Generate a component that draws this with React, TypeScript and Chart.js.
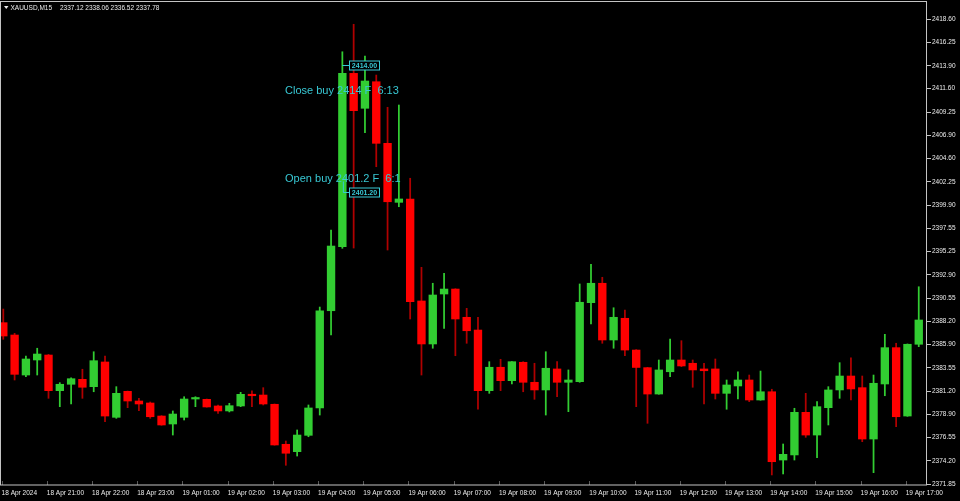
import React, { useEffect, useRef } from 'react';
import { Chart, registerables } from 'chart.js';

Chart.register(...registerables);

// ---- data (XAUUSD M15, 18 Apr 20:00 -> 19 Apr 17:15) ----
const open = [
  2388.09, 2386.85, 2382.83, 2384.34, 2384.84, 2381.26, 2381.90, 2382.40, 2381.66, 2384.14,
  2378.58, 2381.19, 2380.22, 2380.02, 2378.71, 2377.91, 2378.58, 2380.42, 2380.39, 2379.72,
  2379.22, 2379.72, 2380.89, 2380.82, 2379.89, 2375.87, 2375.13, 2376.77, 2379.52, 2389.29,
  2395.72, 2413.14, 2409.63, 2412.30, 2406.11, 2400.18, 2400.52, 2390.27, 2385.95, 2390.97,
  2391.47, 2388.63, 2387.35, 2381.26, 2383.61, 2382.26, 2384.11, 2382.10, 2381.33, 2383.44,
  2382.10, 2382.16, 2390.10, 2392.05, 2386.35, 2388.53, 2385.34, 2383.57, 2380.92, 2383.16,
  2384.34, 2384.01, 2383.44, 2383.44, 2380.99, 2381.73, 2382.33, 2380.32, 2381.15, 2374.29,
  2374.80, 2379.08, 2376.80, 2379.55, 2381.33, 2382.73, 2381.56, 2376.40, 2381.93, 2385.58,
  2378.71, 2385.92,
];
const high = [
  2389.46, 2387.02, 2384.74, 2385.52, 2384.90, 2382.06, 2382.56, 2383.41, 2385.17, 2384.74,
  2381.66, 2381.22, 2380.49, 2380.12, 2378.75, 2379.22, 2380.65, 2380.65, 2380.42, 2379.82,
  2379.99, 2381.09, 2381.23, 2381.56, 2379.92, 2376.20, 2377.31, 2379.82, 2389.66, 2397.40,
  2415.31, 2418.07, 2414.88, 2412.97, 2409.73, 2409.96, 2402.60, 2393.65, 2392.05, 2393.05,
  2391.50, 2389.53, 2388.63, 2384.17, 2384.41, 2384.17, 2384.17, 2384.01, 2385.17, 2384.17,
  2383.34, 2391.98, 2393.95, 2392.65, 2389.59, 2389.36, 2385.38, 2383.60, 2384.34, 2386.45,
  2386.28, 2384.34, 2384.01, 2384.44, 2382.33, 2383.16, 2382.83, 2383.23, 2381.40, 2375.90,
  2379.49, 2380.99, 2380.15, 2381.66, 2384.07, 2384.57, 2382.73, 2382.83, 2386.92, 2386.02,
  2385.95, 2391.70,
];
const low = [
  2386.42, 2382.33, 2382.66, 2382.83, 2380.49, 2379.65, 2379.92, 2380.49, 2381.15, 2378.14,
  2378.48, 2379.55, 2379.25, 2378.48, 2377.78, 2376.80, 2378.31, 2379.65, 2379.60, 2378.98,
  2379.12, 2379.65, 2379.65, 2379.82, 2375.78, 2373.76, 2374.69, 2376.63, 2378.81, 2386.85,
  2395.56, 2395.59, 2407.18, 2403.76, 2395.39, 2399.74, 2388.46, 2382.83, 2385.52, 2387.52,
  2384.77, 2386.02, 2379.39, 2380.99, 2381.26, 2381.93, 2381.15, 2380.39, 2378.81, 2380.65,
  2379.15, 2382.10, 2387.96, 2386.02, 2385.52, 2384.77, 2379.65, 2377.98, 2380.90, 2382.66,
  2383.67, 2381.60, 2379.92, 2380.42, 2379.39, 2380.42, 2380.15, 2380.30, 2372.79, 2372.89,
  2374.29, 2376.57, 2374.52, 2377.81, 2380.49, 2380.32, 2376.13, 2373.02, 2380.75, 2377.64,
  2378.68, 2385.68,
];
const close = [
  2386.75, 2382.90, 2384.44, 2384.94, 2381.26, 2381.90, 2382.46, 2381.60, 2384.27, 2378.71,
  2380.99, 2380.22, 2379.92, 2378.64, 2377.81, 2378.91, 2380.42, 2380.49, 2379.62, 2379.22,
  2379.75, 2380.89, 2380.75, 2379.92, 2375.80, 2374.97, 2376.80, 2379.52, 2389.29, 2395.79,
  2413.14, 2409.39, 2412.37, 2406.11, 2400.24, 2400.52, 2390.20, 2385.95, 2390.87, 2391.47,
  2388.46, 2387.28, 2381.26, 2383.61, 2382.26, 2384.17, 2382.10, 2381.33, 2383.51, 2382.10,
  2382.33, 2390.14, 2392.05, 2386.35, 2388.63, 2385.34, 2383.59, 2380.92, 2383.34, 2384.34,
  2383.74, 2383.34, 2383.26, 2380.99, 2381.83, 2382.33, 2380.32, 2381.15, 2374.12, 2374.86,
  2379.08, 2376.80, 2379.65, 2381.33, 2382.73, 2381.43, 2376.40, 2382.00, 2385.58, 2378.64,
  2385.92, 2388.36,
];

const timeTickIndex = [0, 4, 8, 12, 16, 20, 24, 28, 32, 36, 40, 44, 48, 52, 56, 60, 64, 68, 72, 76, 80];
const timeTickLabels = [
  '18 Apr 2024', '18 Apr 21:00', '18 Apr 22:00', '18 Apr 23:00', '19 Apr 01:00', '19 Apr 02:00',
  '19 Apr 03:00', '19 Apr 04:00', '19 Apr 05:00', '19 Apr 06:00', '19 Apr 07:00', '19 Apr 08:00',
  '19 Apr 09:00', '19 Apr 10:00', '19 Apr 11:00', '19 Apr 12:00', '19 Apr 13:00', '19 Apr 14:00',
  '19 Apr 15:00', '19 Apr 16:00', '19 Apr 17:00',
];
const priceTickLabels = [
  '2418.60', '2416.25', '2413.90', '2411.60', '2409.25', '2406.90', '2404.60', '2402.25', '2399.90',
  '2397.55', '2395.25', '2392.90', '2390.55', '2388.20', '2385.90', '2383.55', '2381.20', '2378.90',
  '2376.55', '2374.20', '2371.85',
];

const headerSymbol = 'XAUUSD,M15';
const headerQuote = '2337.12 2338.06 2336.52 2337.78';

const annotationTexts = ['Close buy 2414 F  6:13', 'Open buy 2401.2 F  6:1'];
const annotationPrices = [2411.03, 2402.19];
const annotationStartIndex = 24.93;
const tradeBarIndex = 30;
const tradePrices = [2414.0, 2401.2];

// ---- styling ----
const BULL = '#32cd32';
const BEAR = '#ff0000';
const BULL_WICK = '#32cd32';
const BEAR_WICK = '#b00000';
const TEXT = '#ececec';
const CYAN = '#38c8d4';
const FONT = '"Liberation Sans", Arial, sans-serif';

const idx = open.map((_, i) => i);
const isBull = idx.map((i) => close[i] >= open[i]);

const overlayPlugin = {
  id: 'mtOverlay',
  afterDatasetsDraw(chart: any) {
    const ctx = chart.ctx as CanvasRenderingContext2D;
    const { left, top, right, bottom } = chart.chartArea;
    const xs = chart.scales.x;
    const ys = chart.scales.y;
    ctx.save();

    // faint inner time ticks
    ctx.strokeStyle = '#5a5a5a';
    ctx.lineWidth = 1;
    timeTickIndex.forEach((t) => {
      const x = Math.round(xs.getPixelForValue(t - 0.15)) + 0.5;
      ctx.beginPath();
      ctx.moveTo(x, bottom - 4);
      ctx.lineTo(x, bottom);
      ctx.stroke();
    });

    // trade annotation text
    ctx.font = `11px ${FONT}`;
    ctx.fillStyle = CYAN;
    ctx.textAlign = 'left';
    ctx.textBaseline = 'alphabetic';
    annotationTexts.forEach((t, k) => {
      ctx.fillText(t, xs.getPixelForValue(annotationStartIndex), ys.getPixelForValue(annotationPrices[k]));
    });

    // price label boxes
    const cx = xs.getPixelForValue(tradeBarIndex);
    tradePrices.forEach((p, k) => {
      const y = Math.round(ys.getPixelForValue(p)) + 0.5;
      ctx.strokeStyle = CYAN;
      ctx.lineWidth = 1;
      ctx.beginPath();
      if (k === 1) {
        ctx.moveTo(cx + 1, y - 11);
        ctx.lineTo(cx + 1, y);
      } else {
        ctx.moveTo(cx, y);
      }
      ctx.lineTo(cx + 7, y);
      ctx.stroke();
      const bx = Math.round(cx + 7) + 0.5;
      ctx.fillStyle = '#000';
      ctx.fillRect(bx, y - 4.5, 30, 9);
      ctx.strokeRect(bx, y - 4.5, 30, 9);
      ctx.fillStyle = CYAN;
      ctx.font = `bold 7px ${FONT}`;
      ctx.textAlign = 'center';
      ctx.textBaseline = 'middle';
      ctx.fillText(p.toFixed(2), bx + 15, y + 0.5);
    });

    // frame
    ctx.strokeStyle = '#c4c4c4';
    ctx.lineWidth = 1;
    ctx.strokeRect(left + 0.5 - 1, top + 0.5 - 1, right - left, bottom - top + 0.5);

    // header
    ctx.fillStyle = TEXT;
    ctx.beginPath();
    ctx.moveTo(4, 6);
    ctx.lineTo(8.5, 6);
    ctx.lineTo(6.25, 9);
    ctx.closePath();
    ctx.fill();
    ctx.font = `6.5px ${FONT}`;
    ctx.textAlign = 'left';
    ctx.textBaseline = 'alphabetic';
    ctx.fillText(headerSymbol, 10.5, 10);
    ctx.fillText(headerQuote, 60, 10);
    ctx.restore();
  },
};

export default function App() {
  const ref = useRef<HTMLCanvasElement>(null);

  useEffect(() => {
    const canvas = ref.current;
    if (!canvas) return;
    const chart = new Chart(canvas, {
      type: 'bar',
      data: {
        datasets: [
          {
            label: 'body',
            data: idx.map((i) => ({ x: i, y: [open[i], close[i]] })) as any,
            backgroundColor: idx.map((i) => (isBull[i] ? BULL : BEAR)),
            borderWidth: 0,
            barThickness: 7.7,
            minBarLength: 1.5,
            grouped: false,
            clip: 0,
          } as any,
          {
            label: 'wick',
            data: idx.map((i) => ({ x: i, y: [low[i], high[i]] })) as any,
            backgroundColor: idx.map((i) => (isBull[i] ? BULL_WICK : BEAR_WICK)),
            borderWidth: 0,
            barThickness: 1.1,
            grouped: false,
            clip: 0,
          } as any,
        ],
      },
      options: {
        responsive: false,
        maintainAspectRatio: false,
        devicePixelRatio: 1,
        animation: false,
        events: [],
        layout: { padding: { left: 1, top: 2, right: 0, bottom: 0 } },
        plugins: { legend: { display: false }, tooltip: { enabled: false } },
        scales: {
          x: {
            type: 'linear',
            min: -0.2035,
            max: 81.73,
            offset: false,
            grid: { display: false, drawTicks: false },
            border: { display: false },
            afterBuildTicks: (scale: any) => {
              scale.ticks = timeTickIndex.map((v) => ({ value: v - 0.15 }));
            },
            afterFit: (scale: any) => {
              scale.height = 16;
              scale.paddingLeft = 0;
              scale.paddingRight = 0;
            },
            ticks: {
              autoSkip: false,
              maxRotation: 0,
              minRotation: 0,
              align: 'start',
              padding: 4,
              color: TEXT,
              font: { family: FONT, size: 6.5 },
              callback: (v: any) => timeTickLabels[Math.round((Number(v) + 0.15) / 4)] ?? '',
            },
          },
          y: {
            type: 'linear',
            position: 'right',
            min: 2371.78,
            max: 2420.31,
            grid: { display: true, drawOnChartArea: false, drawTicks: true, tickLength: 4, color: '#c4c4c4' },
            border: { display: false },
            afterBuildTicks: (scale: any) => {
              scale.ticks = priceTickLabels.map((s) => ({ value: parseFloat(s) }));
            },
            afterFit: (scale: any) => {
              scale.width = 33;
              scale.paddingTop = 0;
              scale.paddingBottom = 0;
            },
            ticks: {
              padding: 1,
              color: TEXT,
              font: { family: FONT, size: 6.5 },
              callback: (v: any) => Number(v).toFixed(2),
            },
          },
        },
      } as any,
      plugins: [overlayPlugin],
    });
    return () => chart.destroy();
  }, []);

  return (
    <div style={{ position: 'fixed', left: 0, top: 0, width: 960, height: 501, background: '#000' }}>
      <canvas ref={ref} width={960} height={501} style={{ display: 'block', width: 960, height: 501 }} />
    </div>
  );
}
